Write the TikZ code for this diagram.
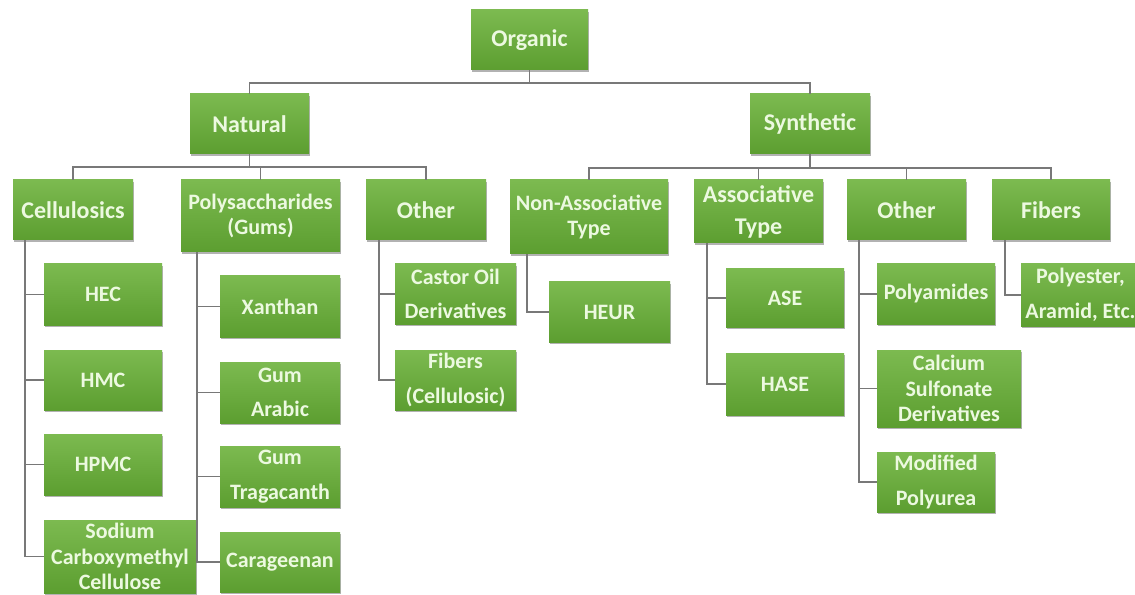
\documentclass[tikz,border=0pt]{standalone}
\usepackage{fontspec}
\setmainfont{Carlito}
\usetikzlibrary{shadows}
\definecolor{boxtop}{RGB}{124,186,80}
\definecolor{boxbot}{RGB}{92,158,48}
\definecolor{boxtxt}{RGB}{236,249,224}
\definecolor{wirec}{RGB}{120,120,120}
\tikzset{
  gbox/.style={rectangle, inner sep=0pt, align=center,
    top color=boxtop, bottom color=boxbot, draw=none,
    text=boxtxt,
    drop shadow={shadow xshift=0.6pt, shadow yshift=-1.6pt, opacity=0.3, fill=black},
    font=\fontsize{16.5pt}{19pt}\selectfont\bfseries},
  big/.style={font=\fontsize{18pt}{21pt}\selectfont\bfseries},
  wire/.style={draw=wirec, line width=1.3pt}
}
\newcommand\gnode[6]{\node[gbox,#1,minimum width=#4*0.75pt,minimum height=#5*0.75pt] (#2) at (#3) {#6};}
\begin{document}
\begin{tikzpicture}[x=0.75pt, y=-0.75pt]
\useasboundingbox (0,0) rectangle (1135,595);
\clip (0,0) rectangle (1135,595);
\fill[white] (0,0) rectangle (1135,595);
% level 0-1
\gnode{big}{org}{529.5,40}{117}{60}{Organic}
\gnode{big}{nat}{249.5,124}{119}{60}{Natural}
\gnode{big}{syn}{810,124}{120}{60}{Synthetic}
% level 2
\gnode{big}{cel}{73,210}{120}{60}{Cellulosics}
\gnode{}{poly}{260.5,216}{159}{72}{Polysaccharides\\(Gums)}
\gnode{big}{othn}{426,210}{120}{60}{Other}
\gnode{}{nona}{589,217}{158}{74}{Non-Associative\\Type}
\gnode{big}{asso}{758.5,211.5}{129}{63}{Associative\\[3pt]Type}
\gnode{big}{oths}{906.5,210}{119}{60}{Other}
\gnode{big}{fib}{1051,210}{118}{60}{Fibers}
% level 3
\gnode{}{hec}{103,294.5}{118}{61}{HEC}
\gnode{}{hmc}{103,380}{118}{60}{HMC}
\gnode{}{hpmc}{103,464.5}{118}{61}{HPMC}
\gnode{}{scmc}{120,556.5}{152}{73}{Sodium\\Carboxymethyl\\Cellulose}
\gnode{}{xan}{280,306.5}{120}{61}{Xanthan}
\gnode{}{gar}{280,392.5}{120}{61}{Gum\\[7pt]Arabic}
\gnode{}{gtr}{280,476.5}{120}{61}{Gum\\[7pt]Tragacanth}
\gnode{}{car}{280,562}{120}{60}{Carageenan}
\gnode{}{cas}{455.5,294}{121}{60}{Castor Oil\\[6pt]Derivatives}
\gnode{}{fcel}{455.5,380}{121}{60}{Fibers\\[7pt](Cellulosic)}
\gnode{}{heur}{609.5,312}{121}{60}{HEUR}
\gnode{}{ase}{785,298}{118}{58}{ASE}
\gnode{}{hase}{785,384}{118}{62}{HASE}
\gnode{}{pam}{936,294}{118}{60}{Polyamides}
\gnode{}{cal}{949,388.5}{144}{77}{Calcium\\Sulfonate\\Derivatives}
\gnode{}{mpu}{936,482}{118}{60}{Modified\\[7pt]Polyurea}
\gnode{}{pol}{1080.5,295}{119}{62}{Polyester,\\[7pt]Aramid, Etc.}
% connectors top
\draw[wire] (org.south) -- ++(0,13) -| (nat.north);
\draw[wire] (org.south) -- ++(0,13) -| (syn.north);
\foreach \c in {cel,poly,othn}{\draw[wire] (nat.south) -- ++(0,13) -| (\c.north);}
\foreach \c in {nona,asso,oths,fib}{\draw[wire] (syn.south) -- ++(0,14) -| (\c.north);}
% connectors down
\foreach \c in {hec,hmc,hpmc,scmc}{\draw[wire] (cel.south west) ++(12.5,0) |- (\c.west);}
\foreach \c in {xan,gar,gtr,car}{\draw[wire] (poly.south west) ++(16.5,0) |- (\c.west);}
\foreach \c in {cas,fcel}{\draw[wire] (othn.south west) ++(13,0) |- (\c.west);}
\draw[wire] (nona.south west) ++(17,0) |- (heur.west);
\foreach \c in {ase,hase}{\draw[wire] (asso.south west) ++(13,0) |- (\c.west);}
\foreach \c in {pam,cal,mpu}{\draw[wire] (oths.south west) ++(12,0) |- (\c.west);}
\draw[wire] (fib.south west) ++(13,0) |- (pol.west);
\end{tikzpicture}
\end{document}
